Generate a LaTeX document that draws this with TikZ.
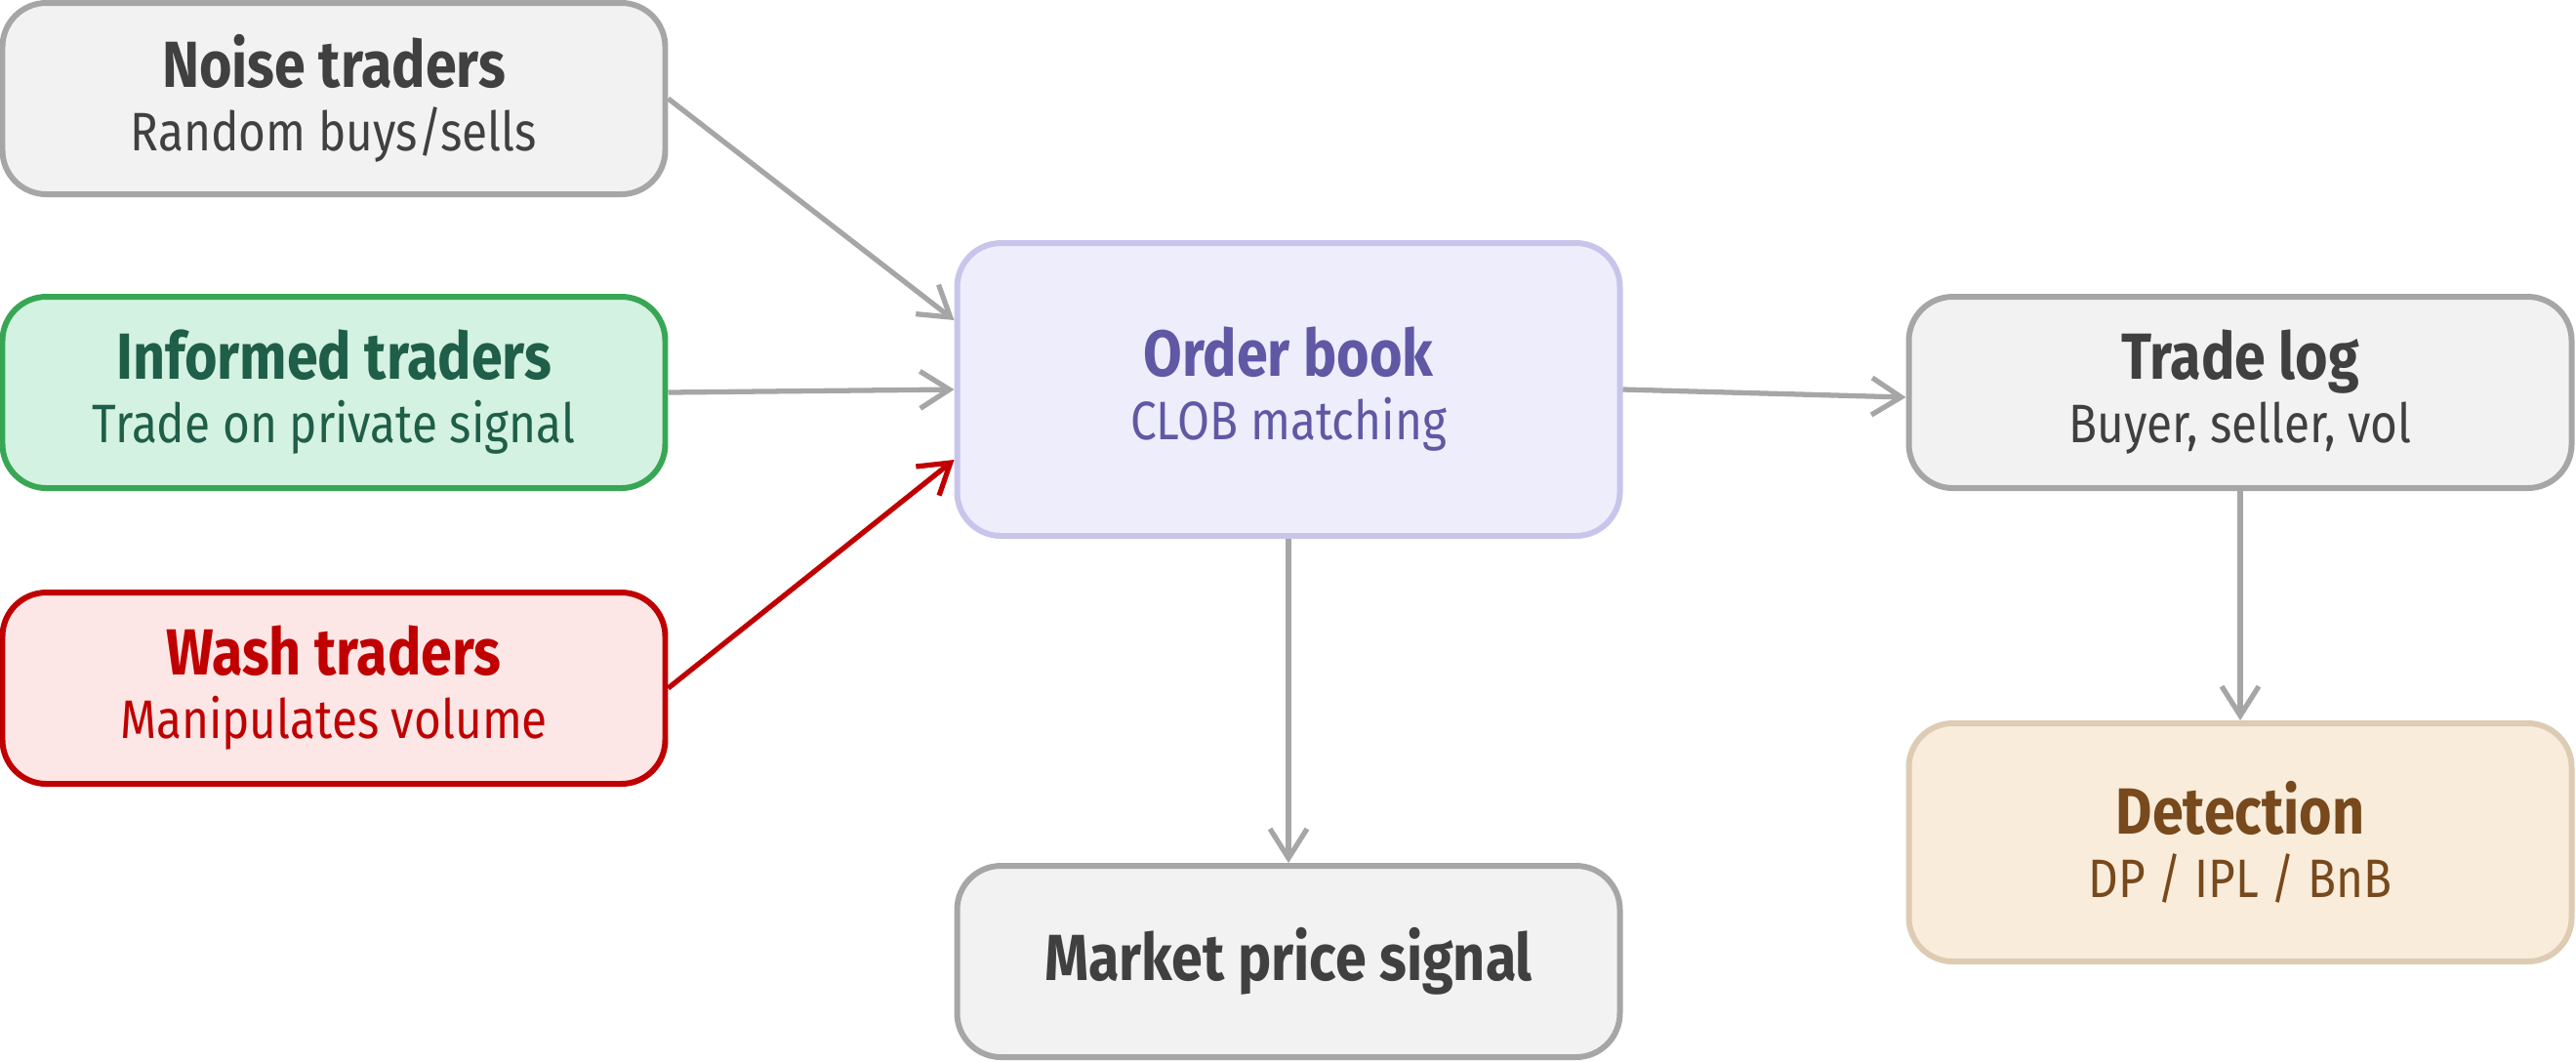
\documentclass[tikz,border=0pt]{standalone}
\usepackage{fontspec}
\setmainfont[FakeStretch=0.86]{Fira Sans}
\usepackage{tikz}
\usetikzlibrary{arrows.meta}
\definecolor{grayfill}{HTML}{F2F2F2}
\definecolor{grayln}{HTML}{A6A6A6}
\definecolor{graytxt}{HTML}{404040}
\definecolor{grnfill}{HTML}{D4F2E1}
\definecolor{grnln}{HTML}{38A755}
\definecolor{grntxt}{HTML}{1F5E48}
\definecolor{redfill}{HTML}{FDE6E6}
\definecolor{redln}{HTML}{C00000}
\definecolor{purfill}{HTML}{EEEDFC}
\definecolor{purln}{HTML}{C8C5EC}
\definecolor{purtxt}{HTML}{5F58A4}
\definecolor{tanfill}{HTML}{F9ECDA}
\definecolor{tanln}{HTML}{DDCCB3}
\definecolor{tantxt}{HTML}{77491C}
\newcommand{\hd}[1]{{\fontsize{19}{18.5}\selectfont\bfseries #1}}

\begin{document}
\begin{tikzpicture}[x=1cm,y=1cm,font=\fontsize{15.8}{18.5}\selectfont,
    bx/.style={rounded corners=4.5mm,line width=1.7pt,align=center,inner sep=0pt,
               minimum width=6.79cm,minimum height=1.96cm},
    gbx/.style={bx,draw=grayln,fill=grayfill,text=graytxt},
    lnk/.style={-{Straight Barb[length=3mm,width=3.8mm]},line width=1.5pt,grayln}]

  \useasboundingbox (0,0) rectangle (26.39,-10.87);

  \node[gbx] (noise) at (3.42,-1.01)
    {\hd{Noise traders}\\Random buys/sells};
  \node[bx,draw=grnln,fill=grnfill,text=grntxt] (informed) at (3.42,-4.02)
    {\hd{Informed traders}\\Trade on private signal};
  \node[bx,draw=redln,fill=redfill,text=redln] (wash) at (3.42,-7.05)
    {\hd{Wash traders}\\Manipulates volume};

  \node[bx,draw=purln,fill=purfill,text=purtxt,minimum height=3.0cm] (book) at (13.20,-3.99)
    {\hd{Order book}\\CLOB matching};
  \node[gbx] (price) at (13.20,-9.85)
    {\hd{Market price signal}};

  \node[gbx] (tlog) at (22.95,-4.02)
    {\hd{Trade log}\\Buyer, seller, vol};
  \node[bx,draw=tanln,fill=tanfill,text=tantxt,minimum height=2.44cm] (detect) at (22.95,-8.63)
    {\hd{Detection}\\DP / IPL / BnB};

  \draw[lnk] (noise.east) -- ([yshift=7.1mm]book.west);
  \draw[lnk] (informed.east) -- (book.west);
  \draw[lnk,redln] (wash.east) -- ([yshift=-7.2mm]book.west);
  \draw[lnk] (book.east) -- ([yshift=-0.5mm]tlog.west);
  \draw[lnk] (book.south) -- (price.north);
  \draw[lnk] (tlog.south) -- (detect.north);
\end{tikzpicture}
\end{document}
